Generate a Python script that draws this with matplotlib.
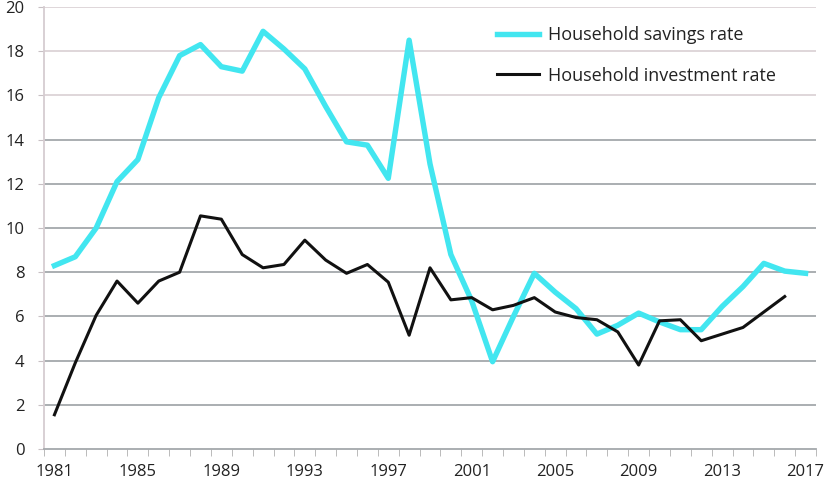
import numpy as np
import matplotlib.pyplot as plt

plt.rcParams['font.family'] = ['Open Sans', 'DejaVu Sans']

years = list(range(1981, 2018))
savings = [8.3, 8.7, 10.0, 12.1, 13.1, 15.9, 17.8, 18.3, 17.3, 17.1,
           18.9, 18.1, 17.2, 15.5, 13.9, 13.75, 12.25, 18.5, 12.9, 8.8,
           6.7, 3.95, 6.0, 7.95, 7.1, 6.35, 5.2, 5.6, 6.15, 5.75,
           5.4, 5.4, 6.45, 7.35, 8.4, 8.05, 7.95]
investment = [1.55, 3.9, 6.05, 7.6, 6.6, 7.6, 8.0, 10.55, 10.4, 8.8,
              8.2, 8.35, 9.45, 8.55, 7.95, 8.35, 7.55, 5.15, 8.2, 6.75,
              6.85, 6.3, 6.5, 6.85, 6.2, 5.95, 5.85, 5.3, 3.8, 5.8,
              5.85, 4.9, 5.2, 5.5, 6.2, 6.9, np.nan]
ytick_vals = list(range(0, 21, 2))

fig = plt.figure(figsize=(8.27, 4.91), dpi=100)
ax = fig.add_axes([0.0532, 0.0855, 0.9335, 0.9002])

x = np.arange(len(years))

# gridlines (top ones look lighter in the original)
for v in ytick_vals[1:]:
    col = '#dcd3d7' if v >= 16 else '#a4a8ab'
    ax.axhline(v, color=col, lw=1.3, zorder=1)

ax.plot(x, savings, color='#42e6f0', lw=3.9, label='Household savings rate', zorder=3)
ax.plot(x, investment, color='#111111', lw=2.2, label='Household investment rate', zorder=4)

ax.set_xlim(-0.5, len(years) - 0.5)
ax.set_ylim(0, 20)

ax.set_xticks(x[::4])
ax.set_xticklabels([str(y) for y in years[::4]])
ax.set_xticks(np.arange(-0.5, len(years), 1), minor=True)
ax.tick_params(axis='x', which='major', length=0, pad=11, labelsize=12, colors='#222222')
ax.tick_params(axis='x', which='minor', length=5, color='#b0b0b0')

ax.set_yticks(ytick_vals)
ax.tick_params(axis='y', length=4, color='#c8c0c4', pad=10, labelsize=12, labelcolor='#222222')

for s in ['top', 'right']:
    ax.spines[s].set_visible(False)
ax.spines['left'].set_color('#d6cdd1')
ax.spines['left'].set_linewidth(1.3)
ax.spines['bottom'].set_color('#a4a8ab')
ax.spines['bottom'].set_linewidth(1.3)

leg = ax.legend(loc='upper left', bbox_to_anchor=(497 / 827, 1 - 26 / 491),
                bbox_transform=fig.transFigure, frameon=False, fontsize=13,
                handlelength=2.35, handletextpad=0.5, labelspacing=1.25, borderpad=0,
                borderaxespad=0)
for t in leg.get_texts():
    t.set_color('#222222')

fig.savefig('out.png', dpi=100)
